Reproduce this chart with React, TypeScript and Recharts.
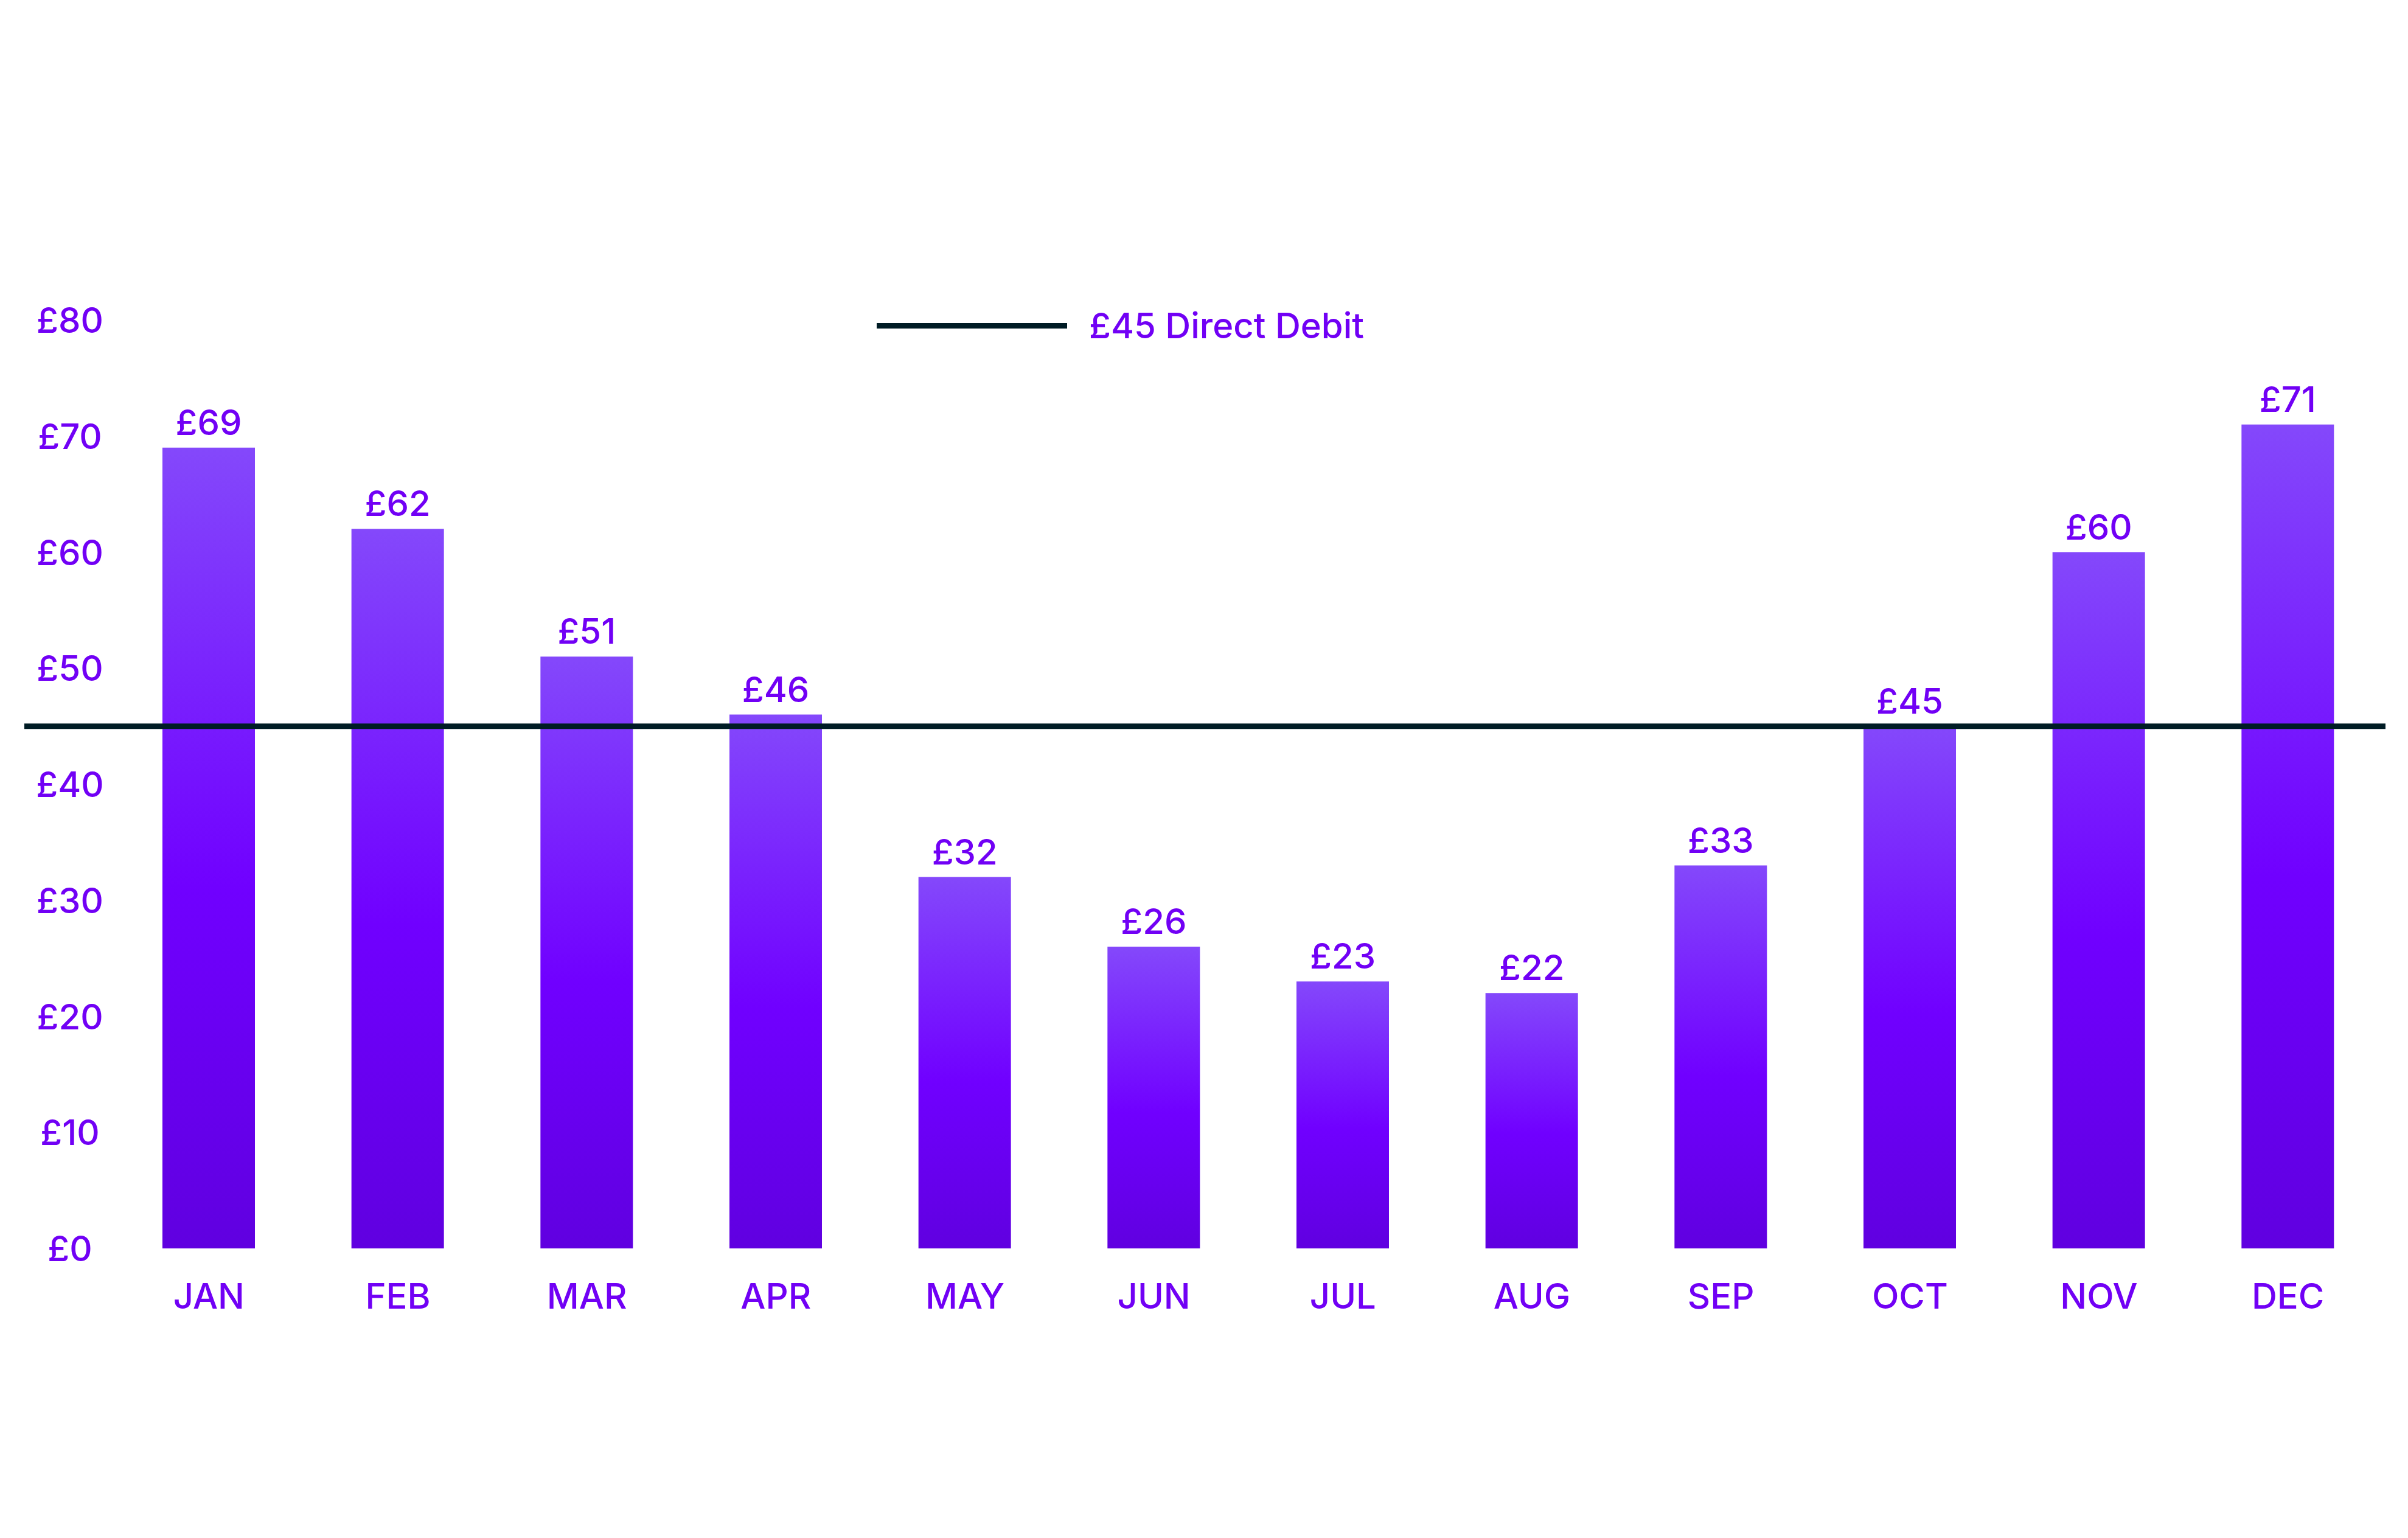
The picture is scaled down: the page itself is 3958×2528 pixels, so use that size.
import { Bar, BarChart, LabelList, Legend, ReferenceLine, XAxis, YAxis } from "recharts";

const months = ["JAN", "FEB", "MAR", "APR", "MAY", "JUN", "JUL", "AUG", "SEP", "OCT", "NOV", "DEC"];
const costs = [69, 62, 51, 46, 32, 26, 23, 22, 33, 45, 60, 71];
const yTicks = [0, 10, 20, 30, 40, 50, 60, 70, 80];
const directDebit = 45;
const debitLabel = "£45 Direct Debit";

const data = months.map((month, i) => ({ month, cost: costs[i] }));

const PURPLE = "#7100f5";
const NAVY = "#001c25";
const FONT = "Inter, 'Noto Sans', sans-serif";
const FS = 58;

function DebitLegend() {
  return (
    <div style={{ display: "flex", alignItems: "center", fontFamily: FONT, fontSize: FS, fontWeight: 500, color: PURPLE, lineHeight: 1 }}>
      <span style={{ display: "inline-block", width: 313, height: 9, background: NAVY, marginRight: 36 }} />
      <span>{debitLabel}</span>
    </div>
  );
}

export default function App() {
  return (
    <div style={{ position: "absolute", left: 0, top: 0, background: "#fff", fontFamily: FONT }}>
      <BarChart width={3958} height={2528} data={data} margin={{ top: 526, right: 37, bottom: 416, left: 40 }}>
        <defs>
          <linearGradient id="bar-grad" x1="0" y1="0" x2="0" y2="1">
            <stop offset="0%" stopColor="#8448fb" />
            <stop offset="55%" stopColor="#7000ff" />
            <stop offset="100%" stopColor="#6000e0" />
          </linearGradient>
        </defs>
        <XAxis
          dataKey="month"
          height={60}
          padding={{ left: 148, right: 5 }}
          axisLine={false}
          tickLine={false}
          tickSize={0}
          tickMargin={58}
          interval={0}
          tick={{ fill: PURPLE, fontSize: FS, fontWeight: 500, fontFamily: FONT }}
        />
        <YAxis
          mirror
          width={160}
          domain={[0, 80]}
          ticks={yTicks}
          interval={0}
          axisLine={false}
          tickLine={false}
          tickSize={0}
          tickMargin={0}
          tickFormatter={(v: number) => `£${v}`}
          tick={(p: any) => (
            <text
              x={p.x + 75}
              y={p.y}
              textAnchor="middle"
              dominantBaseline="central"
              fill={PURPLE}
              fontSize={FS}
              fontWeight={500}
              fontFamily={FONT}
            >
              £{p.payload.value}
            </text>
          )}
        />
        <Legend
          layout="horizontal"
          align="center"
          verticalAlign="middle"
          wrapperStyle={{ left: 1441, top: 506, width: "auto" }}
          content={() => <DebitLegend />}
        />
        <Bar dataKey="cost" fill="url(#bar-grad)" barSize={152} isAnimationActive={false}>
          <LabelList
            dataKey="cost"
            position="top"
            offset={21}
            formatter={(v: any) => `£${v}`}
            fill={PURPLE}
            fontSize={FS}
            fontWeight={500}
            fontFamily={FONT}
          />
        </Bar>
        <ReferenceLine y={directDebit} stroke={NAVY} strokeWidth={9} ifOverflow="extendDomain" />
      </BarChart>
    </div>
  );
}
